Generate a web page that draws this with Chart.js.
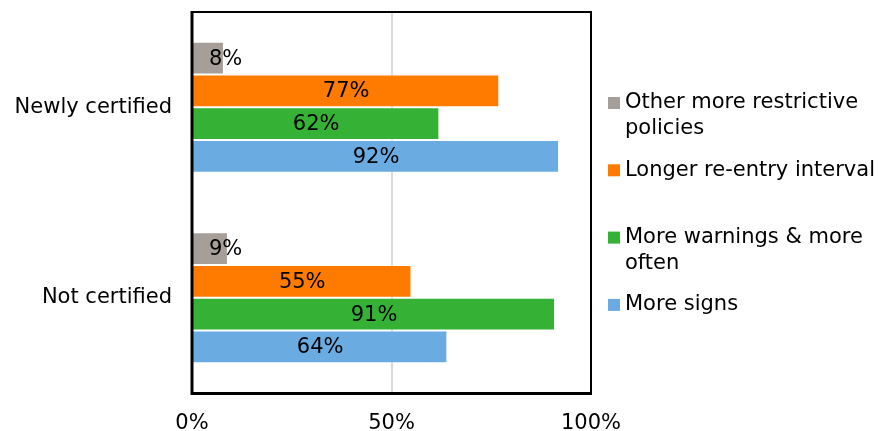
<!DOCTYPE html>
<html>
<head>
<meta charset="utf-8">
<script src="https://cdn.jsdelivr.net/npm/chart.js@4.4.0/dist/chart.umd.min.js"></script>
<style>
  html, body { margin: 0; padding: 0; background: #fff; }
  #wrap { width: 883px; height: 431px; position: relative; }
</style>
</head>
<body>
<div id="wrap"><canvas id="surveyChart"></canvas></div>
<script>
// Survey responses by certification status (percent)
const categories = ["Newly certified", "Not certified"];
const otherPolicies = [8, 9];
const longerReentry = [77, 55];
const moreWarnings = [62, 91];
const moreSigns = [92, 64];
const xTicks = [0, 50, 100];

const seriesNames = [
  ["Other more restrictive", "policies"],
  ["Longer re-entry interval"],
  ["More warnings & more", "often"],
  ["More signs"],
];
const seriesColors = ["#a69e98", "#ff7b00", "#35b136", "#6aabe2"];
const seriesValues = [otherPolicies, longerReentry, moreWarnings, moreSigns];

const FONT = "DejaVu Sans, Verdana, sans-serif";
const FONT_SIZE = 21;

// Box around the plot area, heavier along the two axes
const plotBorder = {
  id: "plotBorder",
  afterDraw(chart) {
    const { ctx, chartArea: a } = chart;
    ctx.save();
    ctx.strokeStyle = "#000";
    ctx.lineWidth = 2;
    ctx.strokeRect(a.left, a.top, a.right - a.left, a.bottom - a.top);
    ctx.lineWidth = 3;
    ctx.beginPath();
    ctx.moveTo(a.left, a.top - 1);
    ctx.lineTo(a.left, a.bottom + 1.5);
    ctx.moveTo(a.left - 1.5, a.bottom + 0.5);
    ctx.lineTo(a.right + 1, a.bottom + 0.5);
    ctx.stroke();
    ctx.restore();
  },
};

// Value labels in the middle of each bar, kept clear of the axis line
const barLabels = {
  id: "barLabels",
  afterDatasetsDraw(chart) {
    const { ctx, chartArea: a } = chart;
    ctx.save();
    ctx.font = FONT_SIZE + "px " + FONT;
    ctx.fillStyle = "#000";
    ctx.textBaseline = "middle";
    ctx.textAlign = "center";
    chart.data.datasets.forEach((ds, i) => {
      chart.getDatasetMeta(i).data.forEach((bar, j) => {
        const text = ds.data[j] + "%";
        const w = ctx.measureText(text).width;
        let cx = (bar.x + bar.base) / 2;
        cx = Math.max(cx, a.left + 17 + w / 2);
        ctx.fillText(text, cx, bar.y + 1);
      });
    });
    ctx.restore();
  },
};

// Legend on the right with wrapped entries
const sideLegend = {
  id: "sideLegend",
  afterDraw(chart) {
    const { ctx, chartArea: a } = chart;
    const x = a.right + 17;
    const top = 103;
    const step = 67.3;
    const lineH = 26;
    ctx.save();
    ctx.font = FONT_SIZE + "px " + FONT;
    ctx.textBaseline = "middle";
    ctx.textAlign = "left";
    chart.data.datasets.forEach((ds, i) => {
      const y = top + i * step;
      ctx.fillStyle = ds.backgroundColor;
      ctx.fillRect(x, y - 6, 12, 12);
      ctx.fillStyle = "#000";
      seriesNames[i].forEach((line, k) => {
        ctx.fillText(line, x + 17, y + k * lineH);
      });
    });
    ctx.restore();
  },
};

const datasets = seriesValues.map((vals, i) => ({
  label: seriesNames[i].join(" "),
  data: vals,
  backgroundColor: seriesColors[i],
  borderColor: "rgba(255,255,255,0.45)",
  borderWidth: 1,
  barPercentage: 1.0,
  categoryPercentage: 0.688,
}));

new Chart(document.getElementById("surveyChart"), {
  type: "bar",
  data: { labels: categories, datasets },
  options: {
    indexAxis: "y",
    responsive: true,
    maintainAspectRatio: false,
    animation: false,
    layout: { padding: { top: 12, right: 292, left: 0, bottom: 0 } },
    plugins: {
      legend: { display: false },
      tooltip: { enabled: false },
    },
    scales: {
      x: {
        min: 0,
        max: 100,
        afterBuildTicks: (scale) => {
          scale.ticks = xTicks.map((v) => ({ value: v }));
        },
        afterFit: (scale) => {
          scale.height = 38;
        },
        border: { display: false },
        grid: {
          drawTicks: false,
          lineWidth: 2,
          color: (c) => (c.tick && c.tick.value === 50 ? "#d9d9d9" : "transparent"),
        },
        ticks: {
          padding: 18,
          maxRotation: 0,
          autoSkip: false,
          color: "#000",
          font: { family: FONT, size: FONT_SIZE },
          callback: (v) => v + "%",
        },
      },
      y: {
        afterFit: (scale) => {
          scale.width = 192;
          scale.paddingTop = 0;
          scale.paddingBottom = 0;
        },
        border: { display: false },
        grid: { display: false, drawTicks: false },
        ticks: {
          padding: 20,
          color: "#000",
          font: { family: FONT, size: FONT_SIZE },
        },
      },
    },
  },
  plugins: [plotBorder, barLabels, sideLegend],
});
</script>
</body>
</html>
